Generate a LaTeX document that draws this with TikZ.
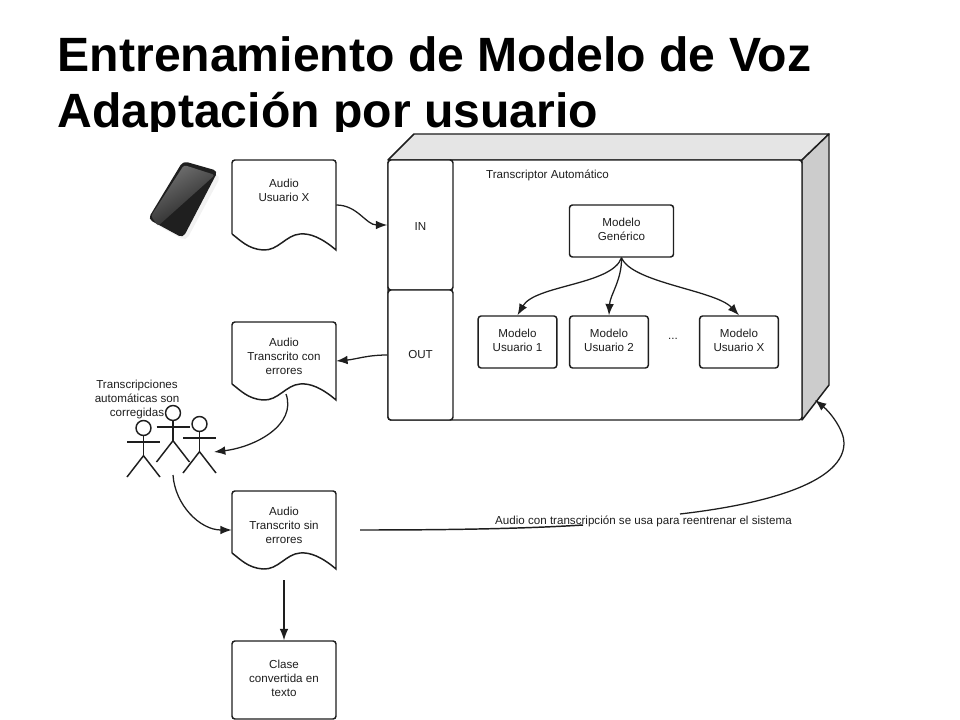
\documentclass[tikz,border=0pt]{standalone}
\usepackage{fontspec}
\setmainfont{Liberation Sans}
\usetikzlibrary{arrows.meta}
\definecolor{inkc}{HTML}{1E1E1E}
\tikzset{
  line/.style={draw=inkc, line width=1.1pt},
  arrow/.style={draw=inkc, line width=0.95pt, -{Latex[length=8.5pt,width=6.5pt]}},
  box/.style={line, rounded corners=2.2pt, fill=white, align=center, inner sep=0pt, text=inkc,
    font=\fontsize{8.7}{10.5}\selectfont},
  caption/.style={align=center, inner sep=0pt, text=inkc, font=\fontsize{8.7}{10.5}\selectfont},
  heading/.style={anchor=base west, inner sep=0pt, text=black, font=\fontsize{36.1}{44}\selectfont\bfseries},
  head/.style={circle, line, inner sep=0pt, minimum size=11.2pt}
}
\newcommand{\docnode}[6]{
  \begin{scope}[shift={(#2,#3)}]
    \draw[line, fill=white] (0,#4-16) [rounded corners=2.2pt] -- (0,0) -- (104,0) [sharp corners] -- (104,#4)
      .. controls (90,#4-12) and (78,#4-17) .. (68,#4-16)
      .. controls (54,#4-15) and (46,#4+1) .. (31,#4)
      .. controls (16,#4-1) and (8,#4-10) .. (0,#4-16);
    \node[minimum width=78pt, minimum height=#4*0.75pt, inner sep=0pt] (#1) at (52,#4/2) {};
    \node[caption] (#1-text) at (52,#5) {#6};
  \end{scope}
}
\newcommand{\actor}[3]{
  \node[head] (#1) at (#2,#3) {};
  \draw[line] (#1.south) -- ++(0,19.5) coordinate (#1-hip);
  \draw[line] (#2-16.5,#3+14) -- (#2+16.5,#3+14);
  \draw[line] (#2-16.5,#3+49) -- (#1-hip) -- (#2+16.5,#3+49);
}
\begin{document}
\begin{tikzpicture}[x=0.75pt, y=-0.75pt]
  \useasboundingbox (0,0) rectangle (960,720);

  \begin{scope}
    \clip (0,0) rectangle (960,132);
    \node[heading] (title1) at (57.5,72) {Entrenamiento de Modelo de Voz};
    \node[heading] (title2) at (57.5,128) {Adaptación por usuario};
  \end{scope}

  \fill[black!5, rounded corners=4pt] (186,165) -- (221,176) -- (186,241) -- (151,222) -- cycle;
  \fill[black!88, rounded corners=3.5pt] (183,161) -- (218,171) -- (183,238) -- (148,219) -- cycle;
  \shade[left color=black!55, right color=black!88, shading angle=30, rounded corners=2pt] (184,165) -- (215,175) -- (158,226) -- (151,216) -- cycle;

  \draw[line, fill=black!10, line join=round] (388,160) -- (414,134) -- (829,134) -- (802,160) -- cycle;
  \draw[line, fill=black!20, line join=round] (802,160) -- (829,134) -- (829,385) -- (802,420) -- cycle;
  \draw[line, fill=white, rounded corners=2.2pt] (388,160) rectangle (802,420);

  \node[box, draw, minimum width=48.75pt, minimum height=97.5pt, text height=9pt] (in) at (420.5,225) {IN};
  \node[box, draw, minimum width=48.75pt, minimum height=97.5pt] (out) at (420.5,355) {OUT};
  \node[caption] (transcriptor) at (547.5,175) {Transcriptor Automático};

  \node[box, draw, minimum width=78pt, minimum height=39pt, text depth=2.5pt] (generico) at (621.5,231) {Modelo\\Genérico};
  \node[box, draw, minimum width=59pt, minimum height=39pt, text depth=2.5pt] (usuario1) at (517.5,342) {Modelo\\Usuario 1};
  \node[box, draw, minimum width=59pt, minimum height=39pt, text depth=2.5pt] (usuario2) at (609,342) {Modelo\\Usuario 2};
  \node[box, draw, minimum width=59pt, minimum height=39pt, text depth=2.5pt] (usuarioX) at (739,342) {Modelo\\Usuario X};
  \node[caption] (dots) at (673,339) {...};

  \draw[arrow] (generico.south) .. controls (612,285) and (535,285) .. (usuario1.north);
  \draw[arrow] (generico.south) .. controls (622,280) and (610,295) .. (usuario2.north);
  \draw[arrow] (generico.south) .. controls (632,283) and (715,290) .. (usuarioX.north);

  \docnode{audioX}{232}{160}{90}{30}{Audio\\Usuario X}
  \docnode{conerrores}{232}{322}{78}{34}{Audio\\Transcrito con\\errores}
  \docnode{sinerrores}{232}{491}{78}{34}{Audio\\Transcrito sin\\errores}
  \node[box, draw, minimum width=78pt, minimum height=58.5pt, text depth=2.5pt] (clase) at (284,680) {Clase\\convertida en\\texto};

  \actor{actorA}{143.5}{428}
  \actor{actorB}{173}{413}
  \actor{actorC}{199.5}{424}
  \node[caption] (corregidas) at (137,399) {Transcripciones\\automáticas son\\corregidas};

  \coordinate (conerrores-tail) at (286,394);
  \coordinate (actors-in) at (214,452);
  \coordinate (actors-out) at (173,475);
  \coordinate (sinerrores-tail) at (284,580);
  \coordinate (retrain-start) at (360,530);
  \coordinate (retrain-stop) at (583,525);
  \coordinate (retrain-back) at (680,514);
  \coordinate (retrain-end) at (815,400);

  \draw[arrow] (audioX.east) to[out=0, in=180] (in.west);
  \draw[arrow] (out.west) to[out=180, in=5] (conerrores.east);
  \draw[arrow] (conerrores-tail) .. controls (297,425) and (255,447) .. (actors-in);
  \draw[arrow] (actors-out) .. controls (175,505) and (200,530) .. (sinerrores.west);
  \draw[arrow] (sinerrores-tail) -- (clase.north);
  \draw[line] (retrain-start) .. controls (440,530) and (520,529) .. (retrain-stop);
  \draw[arrow] (retrain-back) .. controls (775,503) and (844,480) .. (844,443) .. controls (844,430) and (830,412) .. (retrain-end);
  \node[caption] (retrain) at (643.5,521) {Audio con transcripción se usa para reentrenar el sistema};
\end{tikzpicture}
\end{document}
